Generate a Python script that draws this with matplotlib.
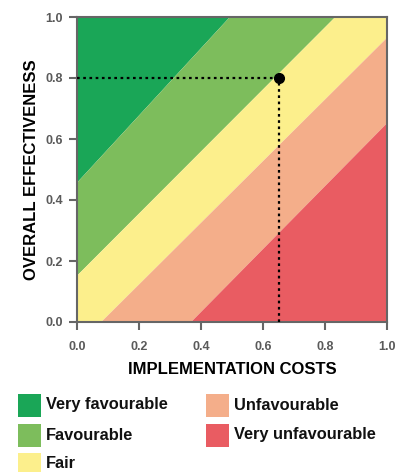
import matplotlib.pyplot as plt
from matplotlib.patches import Rectangle
import numpy as np

plt.rcParams['font.family'] = ['Liberation Sans', 'DejaVu Sans']

# zone labels and colours, best to worst
zone_labels = ['Very favourable', 'Favourable', 'Fair', 'Unfavourable', 'Very unfavourable']
zone_colors = ['#1aa657', '#7dbd5c', '#fcef8c', '#f4ae8a', '#e95c62']

# boundary lines between zones, each as two end points (x0, y0, x1, y1)
boundaries = [
    (0.0, 0.46, 0.49, 1.0),
    (0.0, 0.155, 0.83, 1.0),
    (0.075, 0.0, 1.0, 0.935),
    (0.365, 0.0, 1.0, 0.655),
]

# the option being assessed
point_cost = 0.65
point_effect = 0.80

ticks = [0.0, 0.2, 0.4, 0.6, 0.8, 1.0]
tick_labels = ['0.0', '0.2', '0.4', '0.6', '0.8', '1.0']

fig = plt.figure(figsize=(4.11, 4.72), dpi=100)
ax = fig.add_axes([77 / 411, 150 / 472, 310 / 411, 305 / 472])

xs = np.linspace(0, 1, 401)
def boundary_y(b):
    x0, y0, x1, y1 = b
    return np.clip(y0 + (xs - x0) * (y1 - y0) / (x1 - x0), 0, 1)

edges = [np.ones_like(xs)] + [boundary_y(b) for b in boundaries] + [np.zeros_like(xs)]
for i, col in enumerate(zone_colors):
    ax.fill_between(xs, edges[i + 1], edges[i], color=col, lw=0, zorder=1)

# dotted guide lines to the point
ax.plot([0, point_cost], [point_effect, point_effect], ls=(0, (1.2, 1.6)), color='black', lw=1.6, zorder=3)
ax.plot([point_cost, point_cost], [0, point_effect], ls=(0, (1.2, 1.6)), color='black', lw=1.6, zorder=3)
ax.plot(point_cost, point_effect, 'o', color='black', ms=7, zorder=4)

ax.set_xlim(0, 1)
ax.set_ylim(0, 1)
ax.set_xticks(ticks)
ax.set_yticks(ticks)
ax.set_xticklabels(tick_labels)
ax.set_yticklabels(tick_labels)
ax.tick_params(length=6, width=1.5, color='#666666', labelcolor='#5a5a5a', labelsize=9)
ax.tick_params(axis='x', pad=8)
ax.tick_params(axis='y', pad=4)
for lab in ax.get_xticklabels() + ax.get_yticklabels():
    lab.set_fontweight('bold')
for s in ax.spines.values():
    s.set_color('#666666')
    s.set_linewidth(1.5)

ax.set_xlabel('IMPLEMENTATION COSTS', fontsize=12, fontweight='bold', labelpad=6)
ax.set_ylabel('OVERALL EFFECTIVENESS', fontsize=12, fontweight='bold', labelpad=5)

# legend drawn by hand, two columns
col_x = [18, 206]
row_y = [405, 435, 464]
order = [(0, 0), (0, 1), (0, 2), (1, 0), (1, 1)]
W, H = 411, 472
for (c, r), lab, col in zip(order, zone_labels, zone_colors):
    x = col_x[c]
    yc = row_y[r]
    fig.add_artist(Rectangle((x / W, (H - yc - 11.5) / H), 23 / W, 23 / H,
                             transform=fig.transFigure, color=col, lw=0))
    fig.text((x + 28) / W, (H - yc) / H, lab, fontsize=11.8, fontweight='bold',
             color='#111111', va='center', ha='left')

fig.savefig('out.png', dpi=100)
